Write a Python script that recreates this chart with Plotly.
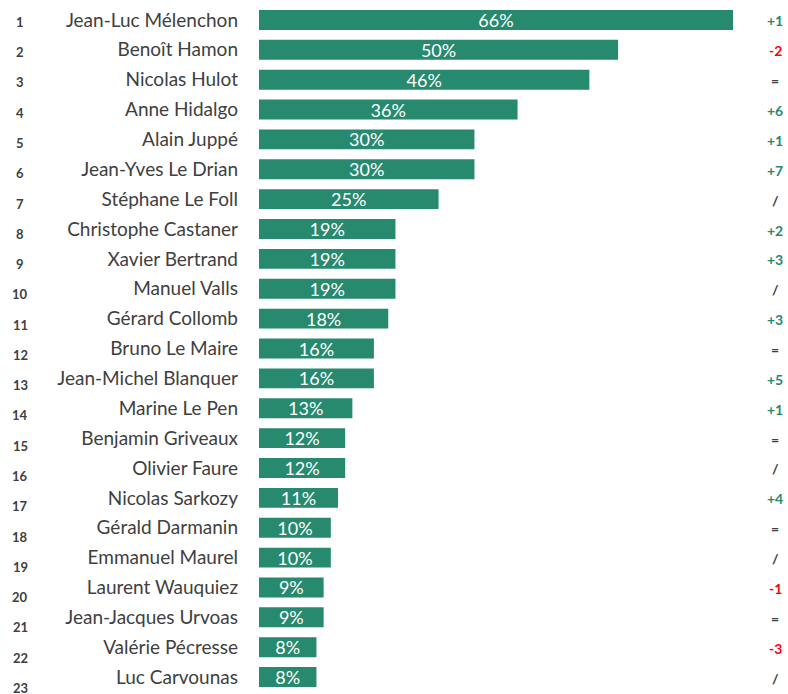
import plotly.graph_objects as go

names = ["Jean-Luc Mélenchon", "Benoît Hamon", "Nicolas Hulot", "Anne Hidalgo", "Alain Juppé",
         "Jean-Yves Le Drian", "Stéphane Le Foll", "Christophe Castaner", "Xavier Bertrand",
         "Manuel Valls", "Gérard Collomb", "Bruno Le Maire", "Jean-Michel Blanquer",
         "Marine Le Pen", "Benjamin Griveaux", "Olivier Faure", "Nicolas Sarkozy",
         "Gérald Darmanin", "Emmanuel Maurel", "Laurent Wauquiez", "Jean-Jacques Urvoas",
         "Valérie Pécresse", "Luc Carvounas"]
values = [66, 50, 46, 36, 30, 30, 25, 19, 19, 19, 18, 16, 16, 13, 12, 12, 11, 10, 10, 9, 9, 8, 8]
ranks = [str(i) for i in range(1, 24)]
changes = ["+1", "-2", "=", "+6", "+1", "+7", "/", "+2", "+3", "/", "+3", "=", "+5", "+1",
           "=", "/", "+4", "=", "/", "-1", "=", "-3", "/"]

GREEN = "#278A6E"
RED = "#FF0000"
GREY = "#404040"
FONT = "Lato"

fig = go.Figure(go.Bar(
    x=values, y=names, orientation="h",
    marker=dict(color=GREEN, line=dict(width=0)),
    text=[f"{v}%" for v in values], textposition="inside", insidetextanchor="middle",
    textfont=dict(color="white", size=18, family=FONT),
    constraintext="none", cliponaxis=False, hoverinfo="none",
))

for i, (r, c, n) in enumerate(zip(ranks, changes, names)):
    fig.add_annotation(x=-259/474, xref="paper", y=n, yref="y", text=f"<b>{r}</b>",
                       showarrow=False, xanchor="center", yshift=-(2 + 0.4 * i),
                       font=dict(size=13, color=GREY, family=FONT), xshift=20)
    col = GREEN if c.startswith("+") else (RED if c.startswith("-") else GREY)
    fig.add_annotation(x=1 + (775 - 733) / 474, xref="paper", y=n, yref="y", text=f"<b>{c}</b>",
                       showarrow=False, xanchor="center", yshift=-1,
                       font=dict(size=14, color=col, family=FONT))

fig.update_layout(
    width=788, height=694,
    margin=dict(l=259, r=55, t=5, b=2, autoexpand=False),
    paper_bgcolor="white", plot_bgcolor="white",
    bargap=1/3, showlegend=False,
    font=dict(family=FONT, color=GREY),
    xaxis=dict(range=[0, 66], visible=False, fixedrange=True),
    yaxis=dict(autorange="reversed", showgrid=False, showline=False, ticks="", automargin=False,
               tickfont=dict(size=19, color=GREY, family=FONT), ticklabelstandoff=20),
)

fig.write_html("out.html", config={"displayModeBar": False},
               post_script="document.body.style.margin='0';document.body.style.overflow='hidden';")
